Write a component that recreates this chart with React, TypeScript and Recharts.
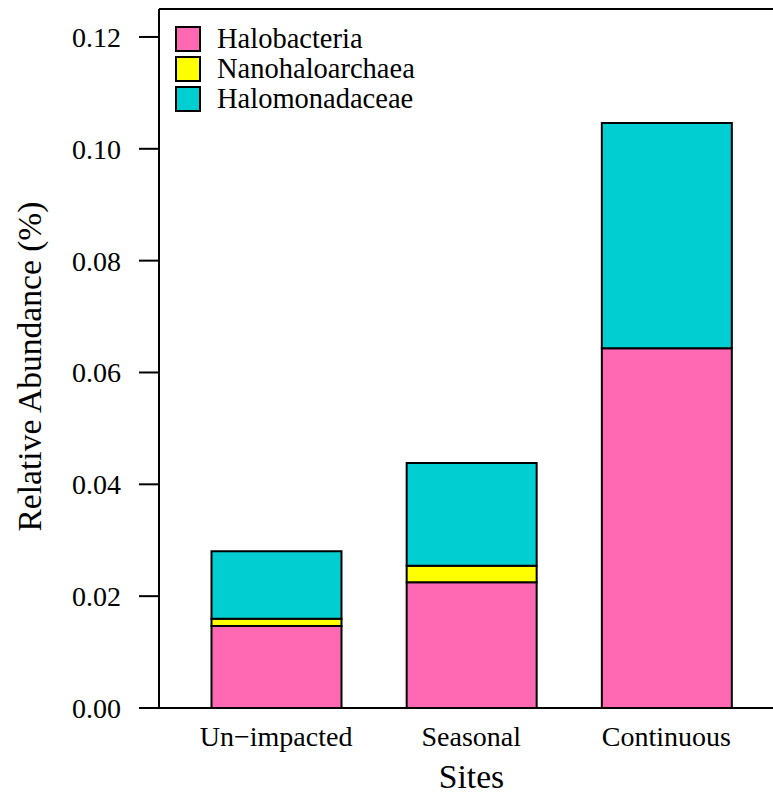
import { BarChart, Bar, XAxis, YAxis, ReferenceLine, Legend, Label } from "recharts";

// Relative abundance per site
const sites = ["Un\u2212impacted", "Seasonal", "Continuous"];
const halobacteria = [0.01467, 0.02249, 0.06435];
const nanohaloarchaea = [0.0013, 0.00297, 0];
const halomonadaceae = [0.01206, 0.01837, 0.04025];
const yTicks = [0, 0.02, 0.04, 0.06, 0.08, 0.1, 0.12];

const seriesNames = ["Halobacteria", "Nanohaloarchaea", "Halomonadaceae"];
const COLORS = ["#ff69b4", "#ffff00", "#00ced1"];

const data = sites.map((site, i) => ({
  site,
  Halobacteria: halobacteria[i],
  Nanohaloarchaea: nanohaloarchaea[i],
  Halomonadaceae: halomonadaceae[i],
}));

const FONT = "'Liberation Serif', 'DejaVu Serif', serif";

const renderLegend = (props: any) => {
  const payload = [...(props.payload || [])].sort(
    (a: any, b: any) => seriesNames.indexOf(a.value) - seriesNames.indexOf(b.value)
  );
  return (
    <div style={{ fontFamily: FONT, fontSize: 28.5, color: "#000" }}>
      {payload.map((entry: any) => (
        <div
          key={entry.value}
          style={{ display: "flex", alignItems: "center", height: 30, lineHeight: "30px" }}
        >
          <span
            style={{
              display: "inline-block",
              boxSizing: "border-box",
              width: 26,
              height: 26,
              border: "2px solid #000",
              background: entry.color,
              marginRight: 16,
            }}
          />
          <span>{entry.value}</span>
        </div>
      ))}
    </div>
  );
};

const renderYLabel = (props: any) => {
  const vb = props.viewBox || { x: 0, y: 0, width: 0, height: 0 };
  const x = vb.x + 41;
  const y = vb.y + vb.height / 2 + 8;
  return (
    <text
      x={x}
      y={y}
      transform={`rotate(-90 ${x} ${y})`}
      textAnchor="middle"
      fontFamily={FONT}
      fontSize={33.6}
      fill="#000"
    >
      Relative Abundance (%)
    </text>
  );
};

export default function App() {
  return (
    <div
      style={{
        position: "absolute",
        top: 0,
        left: 0,
        width: 773,
        height: 797,
        overflow: "hidden",
        background: "#fff",
        fontFamily: FONT,
      }}
    >
      <BarChart
        width={800}
        height={797}
        data={data}
        margin={{ top: 9, right: 16, bottom: 0, left: 0 }}
        barSize={130}
      >
        <XAxis
          dataKey="site"
          height={89}
          padding={{ left: 19.5, right: 20 }}
          axisLine={{ stroke: "#000", strokeWidth: 2 }}
          tickLine={false}
          tickSize={0}
          tickMargin={18}
          tick={{ fill: "#000", fontSize: 28, fontFamily: FONT }}
          interval={0}
        >
          <Label
            value="Sites"
            position="insideBottom"
            offset={9}
            fill="#000"
            fontSize={33.6}
            fontFamily={FONT}
          />
        </XAxis>
        <YAxis
          width={159}
          domain={[0, 0.125]}
          ticks={yTicks}
          tickFormatter={(v: number) => v.toFixed(2)}
          tickSize={20}
          tickMargin={18}
          axisLine={{ stroke: "#000", strokeWidth: 2 }}
          tickLine={{ stroke: "#000", strokeWidth: 2 }}
          tick={{ fill: "#000", fontSize: 28, fontFamily: FONT }}
          allowDataOverflow
        >
          <Label content={renderYLabel} />
        </YAxis>
        <ReferenceLine y={0.125} stroke="#000" strokeWidth={2} />
        <Legend
          layout="vertical"
          align="center"
          verticalAlign="middle"
          content={renderLegend}
          wrapperStyle={{ left: 175, top: 24, width: 300, height: 90 }}
        />
        {seriesNames.map((name, i) => (
          <Bar
            key={name}
            dataKey={name}
            stackId="a"
            fill={COLORS[i]}
            stroke="#000"
            strokeWidth={2}
            isAnimationActive={false}
          />
        ))}
      </BarChart>
    </div>
  );
}
